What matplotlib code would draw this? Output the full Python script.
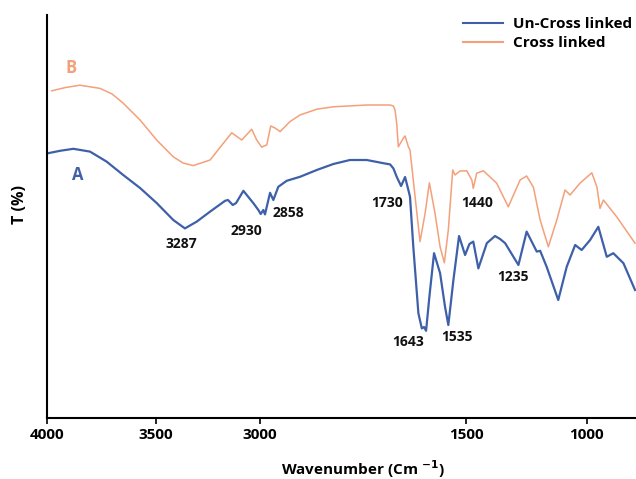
import numpy as np
import matplotlib
matplotlib.use('agg')
import matplotlib.pyplot as plt
from matplotlib.lines import Line2D

plt.rcParams['font.family'] = ['Open Sans', 'DejaVu Sans']
plt.rcParams['font.weight'] = 'bold'
plt.rcParams['mathtext.default'] = 'bf'

# FTIR spectra (wavenumber cm-1, transmittance in arbitrary %)
wn_a = [3993, 3939, 3878, 3802, 3726, 3650, 3573, 3497, 3417, 3361, 3304, 3240,
        3168, 3154, 3131, 3115, 3080, 3032, 3008, 2995, 2976, 2964, 2927, 2903,
        2867, 2806, 2709, 2587, 2466, 2345, 2223, 2102, 2053, 2029, 2005, 1973,
        1944, 1920, 1908, 1884, 1847, 1822, 1806, 1791, 1767, 1733, 1689, 1653,
        1629, 1592, 1551, 1507, 1486, 1470, 1449, 1414, 1380, 1359, 1338, 1283,
        1249, 1207, 1193, 1166, 1118, 1083, 1048, 1021, 986, 952, 917, 890, 848, 800]
t_a = [66.2, 66.8, 67.3, 66.6, 64.1, 60.75, 57.5, 53.75, 49.5, 47.4, 49.1, 51.6,
       54.3, 54.5, 53.25, 53.75, 56.8, 53.7, 52.0, 51.0, 52.0, 50.9, 56.3, 54.5,
       57.8, 59.3, 60.3, 62.0, 63.5, 64.5, 64.5, 63.7, 63.4, 62.4, 60.3, 58.0,
       60.25, 57.0, 55.3, 42.8, 26.2, 22.4, 22.75, 21.8, 30.3, 41.2, 36.2, 27.8,
       23.25, 34.5, 45.5, 40.75, 43.5, 44.1, 37.4, 43.7, 45.5, 44.75, 43.7, 38.25,
       46.6, 41.6, 41.8, 37.8, 29.5, 37.8, 43.25, 42.0, 44.5, 47.8, 40.3, 41.2, 38.7, 32.0]

wn_b = [3977, 3916, 3848, 3756, 3701, 3650, 3573, 3497, 3417, 3370, 3321, 3240,
        3176, 3136, 3088, 3040, 3016, 2988, 2971, 2951, 2922, 2891, 2854, 2782,
        2709, 2587, 2466, 2223, 2053, 2029, 2017, 2005, 1993, 1956, 1944, 1920,
        1908, 1871, 1835, 1798, 1767, 1726, 1689, 1658, 1629, 1597, 1580, 1544,
        1497, 1476, 1470, 1456, 1428, 1373, 1325, 1276, 1249, 1221, 1193, 1159,
        1124, 1090, 1069, 1028, 979, 958, 945, 931, 876, 800]
t_b = [81.8, 82.6, 83.2, 82.4, 81.0, 78.7, 74.5, 69.5, 65.3, 63.75, 63.1, 64.5,
       68.7, 71.3, 69.5, 72.2, 69.5, 67.7, 68.0, 68.25, 73.0, 72.5, 71.6, 74.1,
       75.75, 77.2, 77.8, 78.25, 78.25, 78.0, 77.0, 73.7, 67.8, 70.0, 70.5, 67.8,
       67.0, 55.3, 44.1, 51.2, 58.8, 51.2, 42.8, 38.8, 47.0, 62.0, 60.75, 61.75,
       61.8, 59.5, 57.4, 61.2, 61.8, 58.7, 52.8, 59.5, 60.5, 57.7, 49.5, 42.8,
       49.5, 57.0, 55.75, 58.7, 61.3, 57.8, 52.4, 54.5, 50.3, 43.7]

peak_labels = ['3287', '2930', '2858', '1730', '1440', '1643', '1535', '1235']
peak_wn = [3376, 3064, 2794, 2077, 1456, 1920, 1568, 1304]
peak_t = [43.5, 46.8, 51.3, 53.8, 53.8, 18.9, 20.3, 35.2]

series_names = ['Un-Cross linked', 'Cross linked']
xticks = [4000, 3500, 3000, 1500, 1000]

blue = '#3E60A9'
orange = '#F4A07A'

# broken wavenumber axis: piecewise linear, 3000-1500 squeezed
knot_wn = np.array([500, 796, 1000, 1500, 3000, 3500, 4000, 4500])
knot_fr = np.array([-1.1213, -1.0, -0.9164, -0.7116, -0.362, -0.1855, 0.0, 0.2186])


def fwd(w):
    return np.interp(np.asarray(w, float), knot_wn, knot_fr)


def inv(f):
    return np.interp(np.asarray(f, float), knot_fr, knot_wn)


fig = plt.figure(figsize=(6.36, 4.79), dpi=100)
ax = fig.add_axes([46.7 / 636, 1 - 418 / 479, 1 - 46.7 / 636, (418 - 15) / 479])
ax.set_xscale('function', functions=(fwd, inv))

ax.plot(wn_b, t_b, color=orange, lw=1.1)
ax.plot(wn_a, t_a, color=blue, lw=1.6)

ax.set_xlim(4000, 796)
ax.set_ylim(0, 100.75)
ax.set_xticks(xticks)
ax.set_xticklabels([str(x) for x in xticks])
ax.xaxis.set_minor_locator(matplotlib.ticker.NullLocator())
ax.set_yticks([])
for s in ['top', 'right']:
    ax.spines[s].set_visible(False)
for s in ['left', 'bottom']:
    ax.spines[s].set_linewidth(1.5)
ax.tick_params(axis='x', direction='out', length=4, width=1.2, pad=3, labelsize=11)

for lab, w, t in zip(peak_labels, peak_wn, peak_t):
    ax.text(w, t, lab, ha='center', va='center', fontsize=10, fontweight='bold', color='#111111')

ax.text(3860, 60.75, 'A', color=blue, fontsize=12, fontweight='bold', ha='center', va='center')
ax.text(3890, 87.4, 'B', color=orange, fontsize=12, fontweight='bold', ha='center', va='center')

fig.text(363 / 636, 1 - 469.5 / 479, 'Wavenumber (Cm $^{-1}$)', ha='center', va='center',
         fontsize=11, fontweight='bold')
fig.text(20 / 636, 1 - 205 / 479, 'T (%)', rotation=90, ha='center', va='center',
         fontsize=11.5, fontweight='bold')

handles = [Line2D([], [], color=blue, lw=1.5), Line2D([], [], color=orange, lw=1.5)]
fig.legend(handles, series_names, loc='upper left', bbox_to_anchor=(463.3 / 636, 1 - 17 / 479),
           frameon=False, borderpad=0, borderaxespad=0, handlelength=2.6, handletextpad=0.65,
           labelspacing=0.35, prop={'size': 11, 'weight': 'bold'})

fig.savefig('out.png', dpi=100)
